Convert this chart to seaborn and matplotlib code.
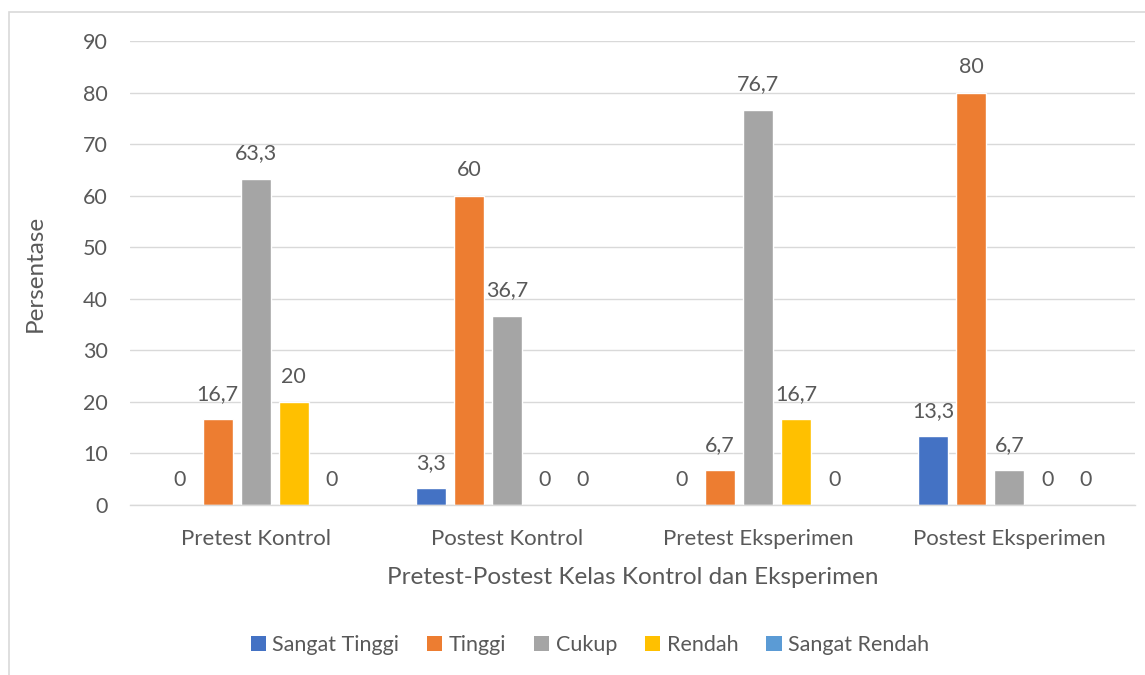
import matplotlib
matplotlib.use("Agg")
import matplotlib.pyplot as plt
import seaborn as sns
import pandas as pd
from matplotlib.patches import Rectangle, Patch

categories = ["Pretest Kontrol", "Postest Kontrol", "Pretest Eksperimen", "Postest Eksperimen"]
series = ["Sangat Tinggi", "Tinggi", "Cukup", "Rendah", "Sangat Rendah"]
sangat_tinggi = [0, 3.3, 0, 13.3]
tinggi = [16.7, 60, 6.7, 80]
cukup = [63.3, 36.7, 76.7, 6.7]
rendah = [20, 0, 16.7, 0]
sangat_rendah = [0, 0, 0, 0]
colors = ["#4472C4", "#ED7D31", "#A5A5A5", "#FFC000", "#5B9BD5"]

values = [sangat_tinggi, tinggi, cukup, rendah, sangat_rendah]
rows = []
for s, vals in zip(series, values):
    for c, v in zip(categories, vals):
        rows.append({"Kategori": c, "Seri": s, "Nilai": v})
df = pd.DataFrame(rows)

sns.set_theme(style="white")
plt.rcParams["font.family"] = ["Lato", "DejaVu Sans"]
txt = "#595959"
grid = "#D9D9D9"

fig = plt.figure(figsize=(11.45, 6.75), dpi=100)
ax = fig.add_axes([130 / 1145, 1 - 505 / 675, 1005 / 1145, 464 / 675])

sns.barplot(data=df, x="Kategori", y="Nilai", hue="Seri", order=categories,
            hue_order=series, palette=colors, width=0.757, gap=0.21,
            saturation=1, ax=ax, legend=False, errorbar=None)

ax.set_ylim(0, 90)
ax.set_yticks(range(0, 91, 10))
ax.yaxis.grid(True, color=grid, linewidth=1)
ax.set_axisbelow(True)
for sp in ["top", "right", "left"]:
    ax.spines[sp].set_visible(False)
ax.spines["bottom"].set_color(grid)
ax.spines["bottom"].set_linewidth(1)
ax.tick_params(axis="y", length=0, labelsize=15.5, colors=txt, pad=16)
ax.tick_params(axis="x", length=0, labelsize=16, colors=txt, pad=17)
for lab in ax.get_yticklabels() + ax.get_xticklabels():
    lab.set_color(txt)

for cont in ax.containers:
    labels = [f"{b.get_height():g}".replace(".", ",") for b in cont]
    ax.bar_label(cont, labels=labels, padding=11, fontsize=15.5, color=txt)

ax.set_xlabel("Pretest-Postest Kelas Kontrol dan Eksperimen", fontsize=17.5, color=txt, labelpad=13)
ax.set_ylabel("Persentase", fontsize=17.5, color=txt, labelpad=27)

handles = [Patch(facecolor=c, edgecolor="none") for c in colors]
fig.legend(handles, series, loc="center", bbox_to_anchor=(590 / 1145, 1 - 645 / 675),
           ncol=5, frameon=False, fontsize=15.5, handlelength=0.7, handleheight=0.7,
           handletextpad=0.3, columnspacing=1.3, labelcolor=txt)

fig.patches.append(Rectangle((8.5 / 1145, -0.1), 1.2, 1 - 12 / 675 + 0.1,
                             transform=fig.transFigure, fill=False,
                             edgecolor=grid, linewidth=1.2))

fig.savefig("out.png", dpi=100, facecolor="white")
